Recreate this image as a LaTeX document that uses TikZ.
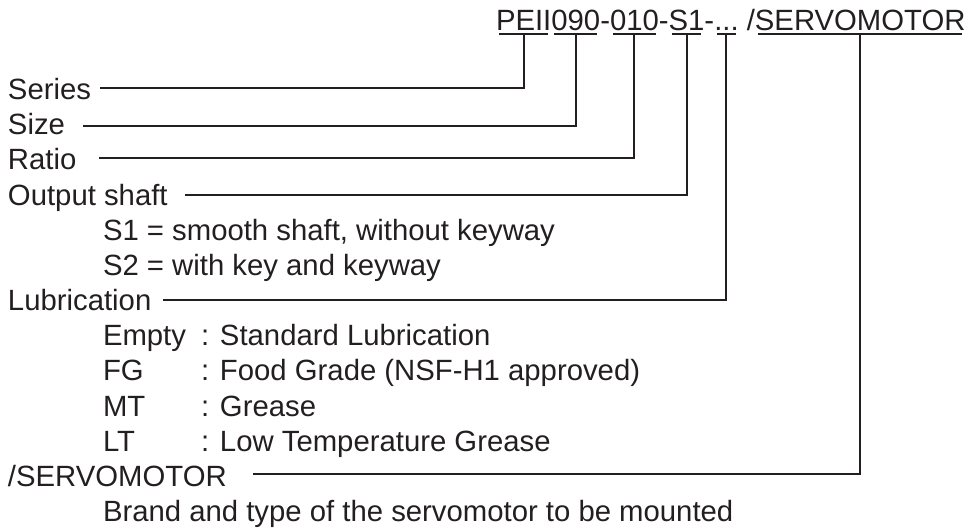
\documentclass[tikz,border=0pt]{standalone}
\usepackage{fontspec}
\setmainfont{Liberation Sans}
\usetikzlibrary{calc}
\definecolor{ink}{HTML}{231F20}
\begin{document}
\begin{tikzpicture}[x=1pt,y=-1pt,
  every node/.style={inner sep=0pt, outer sep=0pt, anchor=base west, text=ink,
    font=\fontsize{29.3}{35}\selectfont},
  conn/.style={draw=ink, line width=2pt, line join=miter},
  uline/.style={draw=ink, line width=1.8pt}]
\useasboundingbox (0,0) rectangle (977,530);
% ---- title code ----
\node (t1) at (496,30.5) {PEII};
\node (t2) at (t1.base east) {090};
\node (d1) at (t2.base east) {-};
\node (t3) at (d1.base east) {010};
\node (d2) at (t3.base east) {-};
\node (t4) at (d2.base east) {S1};
\node (d3) at (t4.base east) {-};
\node (t5) at (d3.base east) {...};
\node (sl) at ($(t5.base east)+(8.1,0)$) {/};
\node (t6) at (sl.base east) {SERVOMOTOR};
\foreach \t in {t1,t2,t3,t4,t5,t6}{
  \draw[uline] ($(\t.base west)+(3,3.5)$) -- ($(\t.base east)+(-3,3.5)$);
  \coordinate (u\t) at ($(\t.base)+(0,3.5)$);
}
% ---- left labels ----
\node (series) at (8,99) {Series};
\node (size)   at (8,134) {Size};
\node (ratio)  at (8,169) {Ratio};
\node (shaft)  at (8,205) {Output shaft};
\node (s1)     at (103,240) {S1 = smooth shaft, without keyway};
\node (s2)     at (103,275) {S2 = with key and keyway};
\node (lub)    at (8,310) {Lubrication};
\node (empty)  at (103,345) {Empty};
\node (emptyd) at (201,345) {: Standard Lubrication};
\node (fg)     at (103,380) {FG};
\node (fgd)    at (201,380) {: Food Grade (NSF-H1 approved)};
\node (mt)     at (103,416) {MT};
\node (mtd)    at (201,416) {: Grease};
\node (lt)     at (103,451) {LT};
\node (ltd)    at (201,451) {: Low Temperature Grease};
\node (servo)  at (8,486) {/SERVOMOTOR};
\node (brand)  at (103,521) {Brand and type of the servomotor to be mounted};
% ---- connector start points ----
\coordinate (cseries) at (100,88);
\coordinate (csize)   at (83,126);
\coordinate (cratio)  at (99,158);
\coordinate (cshaft)  at (185,195);
\coordinate (club)    at (163,300);
\coordinate (cservo)  at (253,474);
\draw[conn] (cseries) -| (ut1);
\draw[conn] (csize)   -| (ut2);
\draw[conn] (cratio)  -| (ut3);
\draw[conn] (cshaft)  -| (ut4);
\draw[conn] (club)    -| (ut5);
\draw[conn] (cservo)  -| (ut6);
\end{tikzpicture}
\end{document}
